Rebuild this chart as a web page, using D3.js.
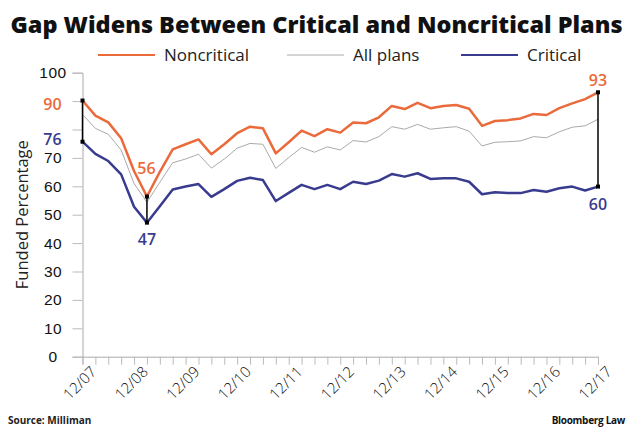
<!DOCTYPE html>
<html>
<head>
<meta charset="utf-8">
<script src="https://cdn.jsdelivr.net/npm/d3@7"></script>
<style>
  body { margin: 0; background: #fff; }
  svg { display: block; font-family: "Open Sans", sans-serif; }
</style>
</head>
<body>
<div class="content"></div>
<script>
//--> Chart data (quarterly, 12/07 to 12/17)
const yearLabels = ["12/07", "12/08", "12/09", "12/10", "12/11", "12/12",
  "12/13", "12/14", "12/15", "12/16", "12/17"];
const noncritical = [90.2, 84.9, 82.5, 76.9, 65.4, 56.4, 65.1, 73.0, 74.8, 76.5,
  71.3, 74.8, 78.7, 81.0, 80.4, 71.6, 75.5, 79.6, 77.7, 80.1,
  78.9, 82.5, 82.2, 84.3, 88.3, 87.2, 89.4, 87.5, 88.3, 88.6,
  87.3, 81.3, 83.0, 83.3, 83.9, 85.5, 85.1, 87.5, 89.2, 90.7, 93.1];
const allPlans = [85.3, 80.4, 78.3, 72.8, 61.0, 54.4, 61.4, 68.3, 69.6, 71.3,
  66.4, 69.6, 73.4, 75.1, 74.8, 66.3, 70.1, 73.7, 72.0, 73.9,
  72.8, 76.1, 75.6, 77.5, 81.0, 80.1, 81.8, 80.1, 80.6, 81.0,
  79.4, 74.2, 75.5, 75.7, 76.0, 77.5, 77.1, 79.2, 80.8, 81.3, 83.6];
const critical = [75.7, 71.4, 68.9, 64.2, 52.8, 47.2, 53.0, 58.9, 59.9, 60.8,
  56.3, 59.0, 61.9, 63.0, 62.2, 54.8, 57.7, 60.5, 59.0, 60.5,
  59.0, 61.6, 60.8, 62.0, 64.3, 63.4, 64.6, 62.6, 62.8, 62.8,
  61.6, 57.2, 57.9, 57.6, 57.6, 58.7, 58.1, 59.3, 59.9, 58.5, 59.9];
const yTicks = [0, 10, 20, 30, 40, 50, 60, 70, 80, 90, 100];
// tick labels left out where the callout numbers sit
const yTicksHidden = [80, 90];
// quarters with a gap callout
const callouts = [0, 5, 40];

//--> Set up main elements
const width = 633;
const height = 430;
const orange = "#eb6a3b";
const blue = "#393b8e";
const grey = "#aaaaaa";

const svg = d3
  .select(".content")
  .append("svg")
  .attr("width", width)
  .attr("height", height);

const x = d3.scaleLinear().domain([0, noncritical.length - 1]).range([82.5, 598]);
const y = d3.scaleLinear().domain([0, 100]).range([356.7, 72.7]);

//--> Title
svg.append("text")
  .attr("x", width / 2)
  .attr("y", 33)
  .attr("text-anchor", "middle")
  .attr("font-size", 23)
  .attr("font-weight", 800)
  .attr("textLength", 612)
  .attr("lengthAdjust", "spacingAndGlyphs")
  .attr("fill", "#111")
  .text("Gap Widens Between Critical and Noncritical Plans");

//--> Legend
const legendItems = [
  { name: "Noncritical", color: orange, w: 1.8, x: 98 },
  { name: "All plans", color: grey, w: 1, x: 287 },
  { name: "Critical", color: blue, w: 1.8, x: 461 },
];
const legend = svg.append("g").attr("id", "legend");
legend.selectAll("line")
  .data(legendItems)
  .join("line")
  .attr("x1", d => d.x)
  .attr("x2", d => d.x + 57)
  .attr("y1", 55)
  .attr("y2", 55)
  .attr("stroke", d => d.color)
  .attr("stroke-width", d => d.w);
legend.selectAll("text")
  .data(legendItems)
  .join("text")
  .attr("x", d => d.x + 66)
  .attr("y", 61)
  .attr("font-size", 17)
  .attr("fill", "#222")
  .text(d => d.name);

//--> Axes
const yAxis = svg.append("g")
  .attr("transform", `translate(${x.range()[0]},0)`)
  .call(d3.axisLeft(y).tickValues(yTicks).tickSize(10)
    .tickFormat(d => (yTicksHidden.includes(d) ? "" : d)));
const xAxis = svg.append("g")
  .attr("transform", `translate(0,${y(0)})`)
  .call(d3.axisBottom(x).ticks(40).tickSize(8).tickFormat(""));

[yAxis, xAxis].forEach(a => {
  a.select(".domain").attr("stroke", grey);
  a.selectAll(".tick line").attr("stroke", "#bbb");
});
yAxis.selectAll(".tick text")
  .attr("x", -29.5)
  .attr("text-anchor", "middle")
  .attr("font-size", 15.5)
  .attr("font-weight", 300)
  .attr("letter-spacing", 0.5)
  .attr("fill", "#111");

svg.append("g")
  .selectAll("text")
  .data(yearLabels)
  .join("text")
  .attr("transform", (_, i) => `translate(${x(i * 4) + 1},${y(0) + 30}) rotate(-45)`)
  .attr("text-anchor", "middle")
  .attr("font-size", 15)
  .attr("font-weight", 300)
  .attr("fill", "#111")
  .text(d => d);

svg.append("text")
  .attr("transform", `translate(28,${(y(0) + y(100)) / 2}) rotate(-90)`)
  .attr("text-anchor", "middle")
  .attr("font-size", 16.5)
  .attr("fill", "#222")
  .text("Funded Percentage");

//--> Lines
const line = d3.line().x((_, i) => x(i)).y(d => y(d));
const series = [
  { values: allPlans, color: grey, w: 1 },
  { values: noncritical, color: orange, w: 2.5 },
  { values: critical, color: blue, w: 2.5 },
];
svg.append("g")
  .selectAll("path")
  .data(series)
  .join("path")
  .attr("d", d => line(d.values))
  .attr("fill", "none")
  .attr("stroke", d => d.color)
  .attr("stroke-width", d => d.w)
  .attr("stroke-linejoin", "round");

//--> Gap callouts
const gaps = svg.append("g");
gaps.selectAll("line")
  .data(callouts)
  .join("line")
  .attr("x1", d => x(d))
  .attr("x2", d => x(d))
  .attr("y1", d => y(noncritical[d]))
  .attr("y2", d => y(critical[d]))
  .attr("stroke", "#000")
  .attr("stroke-width", 1.5);
const ends = callouts.flatMap(d => [noncritical[d], critical[d]].map(v => ({ i: d, v })));
gaps.selectAll("rect")
  .data(ends)
  .join("rect")
  .attr("x", d => x(d.i) - 2)
  .attr("y", d => y(d.v) - 2)
  .attr("width", 4)
  .attr("height", 4)
  .attr("fill", "#000");

const labels = [
  { i: 0, v: noncritical[0], color: orange, dx: -30, dy: 9.5 },
  { i: 0, v: critical[0], color: blue, dx: -30, dy: 3.5 },
  { i: 5, v: noncritical[5], color: orange, dx: -0.5, dy: -23 },
  { i: 5, v: critical[5], color: blue, dx: 0, dy: 22.5 },
  { i: 40, v: noncritical[40], color: orange, dx: 0, dy: -6 },
  { i: 40, v: critical[40], color: blue, dx: 0, dy: 23.5 },
];
gaps.selectAll("text")
  .data(labels)
  .join("text")
  .attr("x", d => x(d.i) + d.dx)
  .attr("y", d => y(d.v) + d.dy)
  .attr("text-anchor", "middle")
  .attr("font-size", 16)
  .attr("font-weight", 600)
  .attr("fill", d => d.color)
  .text(d => Math.round(d.v));

//--> Footer
svg.append("text")
  .attr("x", 8)
  .attr("y", 424)
  .attr("font-size", 10)
  .attr("font-weight", 700)
  .attr("fill", "#222")
  .text("Source: Milliman");
svg.append("text")
  .attr("x", 625)
  .attr("y", 424)
  .attr("text-anchor", "end")
  .attr("font-size", 10)
  .attr("font-weight", 700)
  .attr("letter-spacing", -0.3)
  .attr("fill", "#111")
  .text("Bloomberg Law");
</script>
</body>
</html>
